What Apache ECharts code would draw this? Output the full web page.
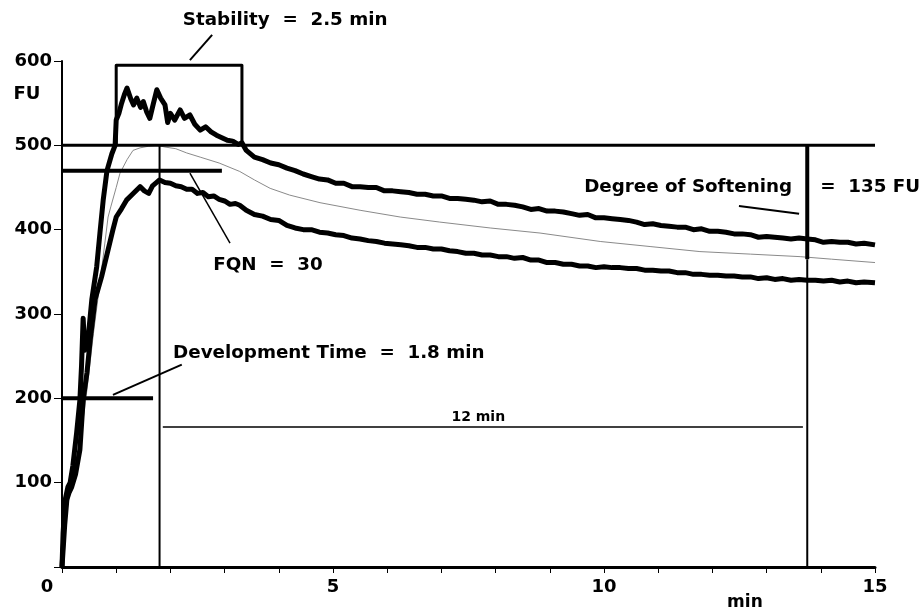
<!DOCTYPE html>
<html><head><meta charset="utf-8">
<script src="https://cdn.jsdelivr.net/npm/echarts@6/dist/echarts.min.js"></script>
<style>html,body{margin:0;padding:0;background:#fff}#c{width:924px;height:613px}</style>
</head><body><div id="c"></div>
<script>
// ---- data (minutes, FU) ----
const xTickLabels = ['5','10','15'];
const yTickLabels = ['100','200','300','400','500','600'];

const upperCurve = [
 [0,0],[0.02,40],[0.06,80],[0.11,95],[0.15,100],[0.2,120],[0.27,159],[0.33,198],[0.36,238],[0.39,295],
 [0.42,257],[0.49,277],[0.55,317],[0.64,356],[0.70,396],[0.76,435],[0.83,470],[0.92,490],[0.98,500],[1.0,530],
 [1.05,538],[1.1,550],[1.15,560],[1.2,568],[1.27,555],[1.32,548],[1.38,556],[1.45,545],[1.5,552],[1.56,540],
 [1.62,532],[1.68,548],[1.75,566],[1.82,556],[1.9,548],[1.95,527],[2.0,538],[2.08,530],[2.18,542],[2.26,532],
 [2.36,536],[2.45,525],[2.55,518],[2.65,522],[2.75,516],[2.85,512],[2.95,509],[3.05,506],[3.15,505],[3.25,501],[3.32,503],
 [3.4,494],[3.55,486],[3.7,483],[3.85,479],[4.0,477],[4.15,473],[4.3,470],[4.45,466],[4.6,463],[4.75,460],
 [4.9,459],[5.05,455],[5.2,455],[5.35,451],[5.5,451],[5.65,450],[5.8,450],[5.95,446],[6.1,446],[6.25,445],
 [6.4,444],[6.55,442],[6.7,442],[6.85,440],[7.0,440],[7.15,437],[7.3,437],[7.45,436],[7.6,435],[7.75,433],
 [7.9,434],[8.05,430],[8.2,430],[8.35,429],[8.5,427],[8.65,424],[8.8,425],[8.95,422],[9.1,422],[9.25,421],
 [9.4,419],[9.55,417],[9.7,418],[9.85,414],[10.0,414],[10.15,413],[10.3,412],[10.45,411],[10.6,409],[10.75,406],
 [10.9,407],[11.05,405],[11.2,404],[11.35,403],[11.5,403],[11.65,400],[11.8,401],[11.95,398],[12.1,398],[12.25,397],
 [12.4,395],[12.55,395],[12.7,394],[12.85,391],[13.0,392],[13.15,391],[13.3,390],[13.45,389],[13.6,390],[13.75,389],
 [13.9,388],[14.05,385],[14.2,386],[14.35,385],[14.5,385],[14.65,383],[14.8,384],[15.0,382]
];

const lowerCurve = [
 [0,0],[0.05,50],[0.09,80],[0.13,88],[0.18,95],[0.25,110],[0.33,139],[0.39,198],[0.46,230],[0.52,269],
 [0.61,317],[0.73,344],[0.85,376],[0.94,400],[1.0,415],[1.1,425],[1.19,435],[1.3,442],[1.44,451],[1.52,446],
 [1.6,443],[1.67,452],[1.8,459],[1.9,456],[2.0,455],[2.1,452],[2.2,451],[2.3,448],[2.4,448],[2.5,443],[2.6,444],
 [2.7,439],[2.8,440],[2.9,436],[3.0,434],[3.1,430],[3.2,431],[3.28,429],
 [3.4,423],[3.55,418],[3.7,416],[3.85,412],[4.0,411],[4.15,405],[4.3,402],[4.45,400],[4.6,400],[4.75,397],
 [4.9,396],[5.05,394],[5.2,393],[5.35,390],[5.5,389],[5.65,387],[5.8,386],[5.95,384],[6.1,383],[6.25,382],
 [6.4,381],[6.55,379],[6.7,379],[6.85,377],[7.0,377],[7.15,375],[7.3,374],[7.45,372],[7.6,372],[7.75,370],
 [7.9,370],[8.05,368],[8.2,368],[8.35,366],[8.5,367],[8.65,364],[8.8,364],[8.95,361],[9.1,361],[9.25,359],
 [9.4,359],[9.55,357],[9.7,357],[9.85,355],[10.0,356],[10.15,355],[10.3,355],[10.45,354],[10.6,354],[10.75,352],
 [10.9,352],[11.05,351],[11.2,351],[11.35,349],[11.5,349],[11.65,347],[11.8,347],[11.95,346],[12.1,346],[12.25,345],
 [12.4,345],[12.55,344],[12.7,344],[12.85,342],[13.0,343],[13.15,341],[13.3,342],[13.45,340],[13.6,341],[13.75,340],
 [13.9,340],[14.05,339],[14.2,340],[14.35,338],[14.5,339],[14.65,337],[14.8,338],[15.0,337]
];

const middleCurve = [
 [0,0],[0.1,70],[0.2,110],[0.3,140],[0.4,180],[0.46,210],[0.58,277],[0.7,337],[0.85,415],[0.9,427],
 [1.0,450],[1.07,467],[1.2,483],[1.31,494],[1.44,497],[1.6,499],[1.75,500],[1.9,498],[2.1,496],[2.3,491],
 [2.55,486],[2.9,479],[3.28,469],[3.55,459],[3.84,449],[4.2,441],[4.76,432],[5.5,423],[6.24,415],[6.97,409],
 [7.9,402],[8.82,396],[9.93,386],[10.85,380],[11.77,374],[12.7,371],[13.62,368],[14.2,365],[15.0,361]
];

// annotation lines (data coordinates)
const line500 = [[0,500],[15,500]];
const line470 = [[0,470],[2.95,470]];
const stabilityBox = [[1.0,500],[1.0,595],[3.32,595],[3.32,500]];
const devVertical = [[1.8,500],[1.8,0]];
const devLine = [[0,200],[1.68,200]];
const twelveMinLine = [[1.86,166],[13.67,166]];
const softeningThick = [[13.75,500],[13.75,365]];
const endVertical = [[13.75,365],[13.75,0]];
const stabilityLeader = [[2.77,631],[2.36,601]];
const devLeader = [[0.94,204],[2.21,240]];
const fqnLeader = [[2.36,467],[3.1,384]];
const softLeader = [[12.49,428],[13.6,419]];

// annotation texts (anchored at data coordinates)
const notes = [
 {text:'Stability  =  2.5 min', at:[2.23,648], align:'left', size:18.3},
 {text:'FQN  =  30', at:[2.79,358], align:'left', size:18.3},
 {text:'Development Time  =  1.8 min', at:[2.05,254], align:'left', size:18.3},
 {text:'12 min', at:[7.68,177], align:'center', size:14},
 {text:'Degree of Softening', at:[13.47,450], align:'right', size:18.3},
 {text:'=  135 FU', at:[13.99,450], align:'left', size:18.3}
];

const FONT = '"DejaVu Sans", "Liberation Sans", Arial, sans-serif';
const chart = echarts.init(document.getElementById('c'), null, {renderer:'canvas'});

function seg(data, width, color, z){
  return {type:'line', data:data, symbol:'none', clip:false, silent:true, animation:false,
    lineStyle:{width:width, color:color||'#000', cap:'butt', join:'round'}, z:z||3};
}

chart.setOption({
  backgroundColor:'#fff',
  animation:false,
  grid:{left:62, right:49, top:61, bottom:46},
  xAxis:{type:'value', min:0, max:15, interval:1,
    axisLine:{lineStyle:{color:'#000', width:3}},
    axisTick:{show:true, length:6, lineStyle:{color:'#000', width:1}},
    splitLine:{show:false},
    axisLabel:{margin:11, color:'#000', fontSize:18, fontWeight:'bold', fontFamily:FONT,
      formatter:function(v){ return xTickLabels.indexOf(String(v))>=0 ? String(v) : ''; }}
  },
  yAxis:{type:'value', min:0, max:600, interval:100,
    axisLine:{show:true, lineStyle:{color:'#000', width:2}},
    axisTick:{show:true, length:8, lineStyle:{color:'#000', width:1}},
    splitLine:{show:false},
    axisLabel:{margin:10, color:'#000', fontSize:18, fontWeight:'bold', fontFamily:FONT,
      formatter:function(v){ return yTickLabels.indexOf(String(v))>=0 ? String(v) : ''; }}
  },
  series:[
    seg(middleCurve, 1, '#8a8a8a', 2),
    seg(upperCurve, 5, '#000', 4),
    seg(lowerCurve, 5, '#000', 4),
    seg(line500, 3),
    seg(line470, 4),
    seg(stabilityBox, 3),
    seg(devVertical, 2),
    seg(devLine, 4),
    seg(twelveMinLine, 1.5),
    seg(softeningThick, 4),
    seg(endVertical, 2),
    seg(stabilityLeader, 2),
    seg(devLeader, 2),
    seg(fqnLeader, 1.5),
    seg(softLeader, 2)
  ]
});

const graphics = notes.map(function(n){
  const p = chart.convertToPixel({gridIndex:0}, n.at);
  return {type:'text', x:p[0], y:p[1], silent:true,
    style:{text:n.text, fill:'#000', font:'bold '+n.size+'px '+FONT, textAlign:n.align, textVerticalAlign:'middle'}};
});
const originPx = chart.convertToPixel({gridIndex:0}, [0,0]);
graphics.push({type:'text', x:originPx[0]-15, y:originPx[1]+20, style:{text:'0', fill:'#000', font:'bold 18px '+FONT, textAlign:'center', textVerticalAlign:'middle'}});
const fuPx = chart.convertToPixel({gridIndex:0}, [0,560]);
graphics.push({type:'text', x:fuPx[0]-35, y:fuPx[1], style:{text:'FU', fill:'#000', font:'bold 18px '+FONT, textAlign:'center', textVerticalAlign:'middle'}});
const minPx = chart.convertToPixel({gridIndex:0}, [12.6,0]);
graphics.push({type:'text', x:minPx[0], y:minPx[1]+36, style:{text:'min', fill:'#000', font:'bold 17px '+FONT, textAlign:'center', textVerticalAlign:'middle'}});
chart.setOption({graphic:graphics});
</script>
</body></html>
